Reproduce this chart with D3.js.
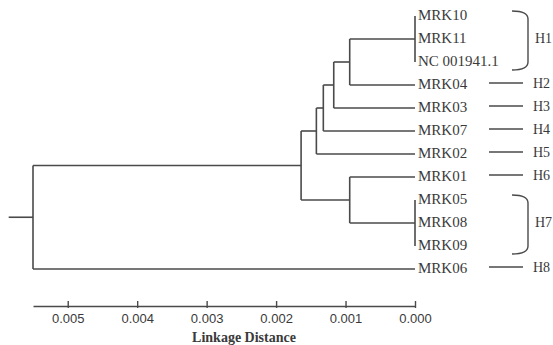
<!DOCTYPE html>
<html>
<head>
<meta charset="utf-8">
<script src="https://cdn.jsdelivr.net/npm/d3@7"></script>
<style>
  body { margin: 0; background: #fff; }
  text { fill: #3a3a3a; }
</style>
</head>
<body>
<script>
  // leaf order top to bottom
  var leaves = ["MRK10", "MRK11", "NC 001941.1", "MRK04", "MRK03", "MRK07",
    "MRK02", "MRK01", "MRK05", "MRK08", "MRK09", "MRK06"];

  // clusters (merge order), their children and linkage heights
  var clusterIds = ["c1", "c2", "c3", "c4", "c5", "c6", "c7", "c8", "root"];
  var clusterChildren = [
    ["MRK10", "MRK11", "NC 001941.1"],
    ["c1", "MRK04"],
    ["c2", "MRK03"],
    ["c3", "MRK07"],
    ["c4", "MRK02"],
    ["MRK05", "MRK08", "MRK09"],
    ["MRK01", "c6"],
    ["c5", "c7"],
    ["c8", "MRK06"]
  ];
  var clusterHeights = [0, 0.00094, 0.00117, 0.00132, 0.00142, 0, 0.00094, 0.00164, 0.0055];

  var tickValues = [0.005, 0.004, 0.003, 0.002, 0.001, 0.000];

  // haplotype groups: label, first leaf, last leaf
  var hapLabels = ["H1", "H2", "H3", "H4", "H5", "H6", "H7", "H8"];
  var hapFirst = ["MRK10", "MRK04", "MRK03", "MRK07", "MRK02", "MRK01", "MRK05", "MRK06"];
  var hapLast = ["NC 001941.1", "MRK04", "MRK03", "MRK07", "MRK02", "MRK01", "MRK09", "MRK06"];

  var width = 553, height = 345;

  var svg = d3.select("body").append("svg")
    .attr("width", width)
    .attr("height", height);

  var x = d3.scaleLinear().domain([0.0055, 0]).range([33, 415]);
  var y = d3.scalePoint().domain(leaves).range([16, 269]);

  // build a table for stratify
  var rows = [];
  clusterIds.forEach(function(id, i) {
    if (id === "root") rows.push({ id: id, parent: null, h: clusterHeights[i] });
  });
  clusterIds.forEach(function(id, i) {
    clusterChildren[i].forEach(function(c) {
      var k = clusterIds.indexOf(c);
      rows.push({ id: c, parent: id, h: k >= 0 ? clusterHeights[k] : 0 });
    });
  });
  // put rows in a stable order so children keep their listed order
  var root = d3.stratify()
    .id(function(d) { return d.id; })
    .parentId(function(d) { return d.parent; })(rows);

  root.eachAfter(function(n) {
    n.px = x(n.data.h);
    if (!n.children) n.py = y(n.id);
    else n.py = (n.children[0].py + n.children[n.children.length - 1].py) / 2;
  });

  var lineColor = "#4a4a4a";
  var tree = svg.append("g")
    .attr("fill", "none")
    .attr("stroke", lineColor)
    .attr("stroke-width", 1.6);

  // vertical segments
  tree.selectAll("line.v")
    .data(root.descendants().filter(function(n) { return n.children; }))
    .enter().append("line")
    .attr("class", "v")
    .attr("x1", function(d) { return d.px; })
    .attr("x2", function(d) { return d.px; })
    .attr("y1", function(d) { return d.children[0].py; })
    .attr("y2", function(d) { return d.children[d.children.length - 1].py; });

  // horizontal segments
  tree.selectAll("line.h")
    .data(root.descendants().filter(function(n) { return n.parent; }))
    .enter().append("line")
    .attr("class", "h")
    .attr("x1", function(d) { return d.parent.px; })
    .attr("x2", function(d) { return d.px; })
    .attr("y1", function(d) { return d.py; })
    .attr("y2", function(d) { return d.py; });

  // root stub
  tree.append("line")
    .attr("x1", x(root.data.h + 0.00035))
    .attr("x2", root.px)
    .attr("y1", root.py)
    .attr("y2", root.py);

  // leaf labels
  svg.selectAll("text.leaf")
    .data(root.leaves())
    .enter().append("text")
    .attr("class", "leaf")
    .attr("x", x(0) + 3)
    .attr("y", function(d) { return d.py + 4; })
    .style("font-family", "'Liberation Serif', 'Times New Roman', serif")
    .style("font-size", "15px")
    .text(function(d) { return d.id; });

  // haplotype markers
  var hap = svg.append("g");
  hapLabels.forEach(function(lab, i) {
    var y0 = y(hapFirst[i]), y1 = y(hapLast[i]);
    var cy;
    if (y0 === y1) {
      cy = y0 - 2;
      hap.append("line")
        .attr("x1", 489).attr("x2", 523)
        .attr("y1", cy).attr("y2", cy)
        .attr("stroke", lineColor).attr("stroke-width", 1.4);
      hap.append("text")
        .attr("x", 533).attr("y", cy + 4.5)
        .style("font-family", "'Liberation Serif', 'Times New Roman', serif")
        .style("font-size", "14px")
        .text(lab);
    } else {
      var top = y0 - 5, bot = y1 + 8;
      hap.append("path")
        .attr("d", "M512," + top + " Q528," + top + " 528," + (top + 8) +
          " L528," + (bot - 8) + " Q528," + bot + " 512," + bot)
        .attr("fill", "none")
        .attr("stroke", lineColor).attr("stroke-width", 1.4);
      cy = (top + bot) / 2 - 2;
      hap.append("text")
        .attr("x", 535).attr("y", cy + 4.5)
        .style("font-family", "'Liberation Serif', 'Times New Roman', serif")
        .style("font-size", "14px")
        .text(lab);
    }
  });

  // axis
  var axis = d3.axisBottom(x)
    .tickValues(tickValues)
    .tickFormat(d3.format(".3f"))
    .tickSizeInner(-5)
    .tickSizeOuter(0)
    .tickPadding(8);

  var gAxis = svg.append("g")
    .attr("transform", "translate(0,306)")
    .call(axis);
  gAxis.select(".domain").attr("stroke", lineColor).attr("stroke-width", 1.4);
  gAxis.selectAll(".tick line").attr("stroke", lineColor).attr("stroke-width", 1.4)
    .attr("y2", -5).attr("y1", 2);
  gAxis.selectAll(".tick text")
    .style("font-family", "'Liberation Sans', Arial, sans-serif")
    .style("font-size", "13px")
    .attr("fill", "#444");

  svg.append("text")
    .attr("x", 244)
    .attr("y", 342)
    .attr("text-anchor", "middle")
    .style("font-family", "'Liberation Serif', 'Times New Roman', serif")
    .style("font-size", "14px")
    .style("font-weight", "bold")
    .text("Linkage Distance");
</script>
</body>
</html>
